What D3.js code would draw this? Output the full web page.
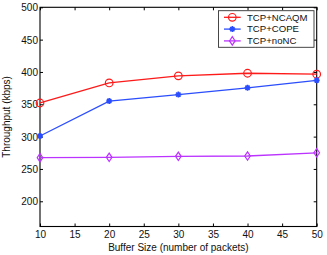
<!DOCTYPE html>
<html><head><meta charset="utf-8">
<script src="https://cdn.jsdelivr.net/npm/d3@7"></script>
<style>body{margin:0;background:#fff}svg{display:block}text{font-family:"Liberation Sans",Arial,sans-serif}</style>
</head><body><svg id="c" width="327" height="255"></svg>
<script>
const bufferSizes = [10, 20, 30, 40, 50];
const ncaqm = [352, 383, 394, 398, 396.5];
const cope = [301, 355, 365, 375.5, 387];
const nonc = [267.5, 268, 269.5, 270, 275];
const seriesNames = ["TCP+NCAQM", "TCP+COPE", "TCP+noNC"];
const xTicks = [10, 15, 20, 25, 30, 35, 40, 45, 50];
const yTicks = [200, 250, 300, 350, 400, 450, 500];
const xLabel = "Buffer Size (number of packets)";
const yLabel = "Throughput (kbps)";

const svg = d3.select("#c");
const L = 40, R = 316.7, T = 7.3, B = 226.5;
const x = d3.scaleLinear().domain([10, 50]).range([L, R]);
const y = d3.scaleLinear().domain([161, 500]).range([B, T]);

const series = [
  {name: seriesNames[0], vals: ncaqm, color: "#ff1a1a", marker: "circle"},
  {name: seriesNames[1], vals: cope, color: "#2a4dff", marker: "star"},
  {name: seriesNames[2], vals: nonc, color: "#bb33ff", marker: "diamond"}
];

// frame
svg.append("rect").attr("x", L).attr("y", T).attr("width", R - L).attr("height", B - T)
  .attr("fill", "none").attr("stroke", "#000").attr("stroke-width", 1.1);

// axes
const fs = 10;
const gx = svg.append("g").attr("transform", `translate(0,${B})`)
  .call(d3.axisBottom(x).tickValues(xTicks).tickSize(-3).tickPadding(4).tickFormat(d3.format("d")));
const gxt = svg.append("g").attr("transform", `translate(0,${T})`)
  .call(d3.axisTop(x).tickValues(xTicks).tickSize(-3).tickFormat(""));
const gy = svg.append("g").attr("transform", `translate(${L},0)`)
  .call(d3.axisLeft(y).tickValues(yTicks).tickSize(-3).tickPadding(2).tickFormat(d3.format("d")));
const gyr = svg.append("g").attr("transform", `translate(${R},0)`)
  .call(d3.axisRight(y).tickValues(yTicks).tickSize(-3).tickFormat(""));
[gx, gxt, gy, gyr].forEach(g => {
  g.select(".domain").remove();
  g.selectAll("line").attr("stroke", "#000").attr("stroke-width", 1);
  g.selectAll("text").attr("font-size", fs).attr("fill", "#111").attr("font-family", '"Liberation Sans",Arial,sans-serif');
});
gy.selectAll("text").attr("dy", "0.35em");

// labels
svg.append("text").attr("x", (L + R) / 2).attr("y", 251).attr("text-anchor", "middle")
  .attr("font-size", fs).attr("fill", "#111").text(xLabel);
svg.append("text").attr("transform", `translate(9.5,${(T + B) / 2}) rotate(-90)`).attr("text-anchor", "middle")
  .attr("font-size", fs).attr("fill", "#111").text(yLabel);

function drawMarker(g, type, cx, cy, color) {
  if (type === "circle") {
    g.append("circle").attr("cx", cx).attr("cy", cy).attr("r", 3.8)
      .attr("fill", "none").attr("stroke", color).attr("stroke-width", 1.2);
  } else if (type === "diamond") {
    g.append("path").attr("d", `M${cx},${cy - 4.2}L${cx + 2.8},${cy}L${cx},${cy + 4.2}L${cx - 2.8},${cy}Z`)
      .attr("fill", "none").attr("stroke", color).attr("stroke-width", 1.2);
  } else {
    const r = 3;
    let d = "";
    for (let i = 0; i < 4; i++) {
      const a = i * Math.PI / 4;
      d += `M${cx - r * Math.cos(a)},${cy - r * Math.sin(a)}L${cx + r * Math.cos(a)},${cy + r * Math.sin(a)}`;
    }
    g.append("path").attr("d", d).attr("stroke", color).attr("stroke-width", 1.6);
    g.append("circle").attr("cx", cx).attr("cy", cy).attr("r", 1.6).attr("fill", color);
  }
}

const line = d3.line().x((d, i) => x(bufferSizes[i])).y(d => y(d));
series.forEach(s => {
  const g = svg.append("g");
  g.append("path").datum(s.vals).attr("d", line).attr("fill", "none")
    .attr("stroke", s.color).attr("stroke-width", 1.3);
  s.vals.forEach((v, i) => drawMarker(g, s.marker, x(bufferSizes[i]), y(v), s.color));
});

// legend
const lg = svg.append("g");
lg.append("rect").attr("x", 218.5).attr("y", 10.7).attr("width", 95.5).attr("height", 36.6)
  .attr("fill", "#fff").attr("stroke", "#333").attr("stroke-width", 0.9);
series.forEach((s, i) => {
  const cy = 17.3 + i * 11.8;
  lg.append("line").attr("x1", 224).attr("x2", 240.7).attr("y1", cy).attr("y2", cy)
    .attr("stroke", s.color).attr("stroke-width", 1.3);
  drawMarker(lg, s.marker, 232.3, cy, s.color);
  lg.append("text").attr("x", 247).attr("y", cy).attr("dy", "0.35em")
    .attr("font-size", 9.6).attr("fill", "#111").text(s.name);
});
</script></body></html>
